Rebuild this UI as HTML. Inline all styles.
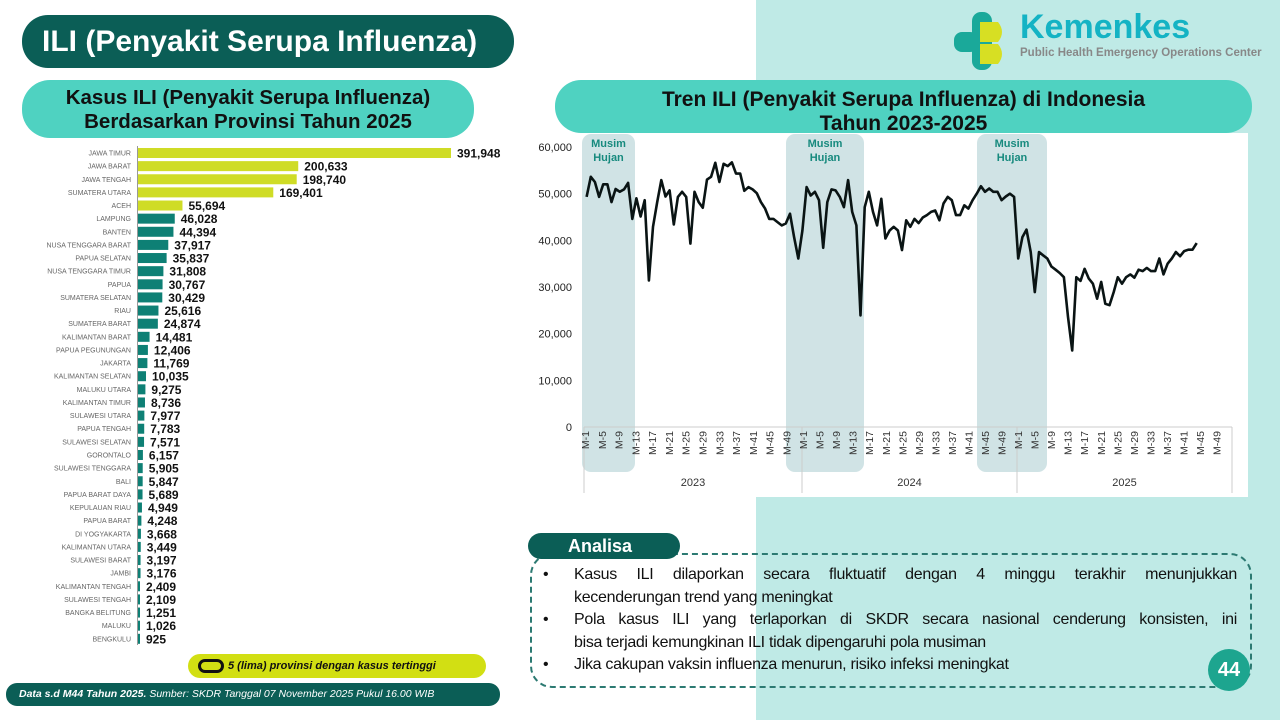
<!DOCTYPE html>
<html><head><meta charset="utf-8"><style>
body{margin:0;width:1280px;height:720px;overflow:hidden;font-family:"Liberation Sans",sans-serif;background:#fff;position:relative}
.abs{position:absolute}
.j{display:block;text-align:justify;text-align-last:justify;white-space:nowrap}
</style></head><body>
<div class="abs" style="left:756px;top:0;width:524px;height:720px;background:#bfeae6"></div>
<div class="abs" style="left:22px;top:15px;width:492px;height:53px;background:#0b5e56;border-radius:26px;color:#fff;font-weight:bold;font-size:30px;line-height:53px;padding-left:20px;box-sizing:border-box">ILI (Penyakit Serupa Influenza)</div>
<div class="abs" style="left:22px;top:80px;width:452px;height:58px;background:#4fd2c1;border-radius:28px;color:#111;font-weight:bold;font-size:20.5px;line-height:24px;text-align:center;padding-top:6px;box-sizing:border-box;white-space:nowrap">Kasus ILI (Penyakit Serupa Influenza)<br>Berdasarkan Provinsi Tahun 2025</div>
<div class="abs" style="left:555px;top:80px;width:697px;height:53px;background:#4fd2c1;border-radius:26px;color:#111;font-weight:bold;font-size:21px;line-height:24px;text-align:center;padding-top:8px;box-sizing:border-box">Tren ILI (Penyakit Serupa Influenza) di Indonesia<br>Tahun 2023-2025</div>
<div class="abs" style="left:520px;top:133px;width:728px;height:364px;background:#fff"></div>
<svg class="abs" style="left:950px;top:8px" width="80" height="70">
<rect x="4" y="24" width="24" height="20" rx="8" fill="#1aa99a"/>
<rect x="22" y="4" width="20" height="58" rx="9" fill="#1aa99a"/>
<path d="M30 14 L48 14 Q56 24 48 34 L30 34 Z" fill="#d7df23"/>
<path d="M30 36 L48 36 Q56 46 48 56 L30 56 Z" fill="#d7df23"/>
</svg>
<div class="abs" style="left:1020px;top:8px;font-size:34px;font-weight:bold;color:#14b3c4">Kemenkes</div>
<div class="abs" style="left:1020px;top:47px;font-size:11.5px;font-weight:bold;color:#888">Public Health Emergency Operations Center</div>
<svg id="bars" class="abs" style="left:0;top:0" width="520" height="720"></svg>
<svg id="line" class="abs" style="left:0;top:0" width="1280" height="720"></svg>
<div class="abs" style="left:188px;top:654px;width:298px;height:24px;background:#d2df13;border-radius:12px;font-size:11px;font-weight:bold;font-style:italic;line-height:24px;color:#111"><span style="display:inline-block;width:20px;height:8px;border:3px solid #111;border-radius:7px;vertical-align:middle;margin:0 4px 0 10px"></span>5 (lima) provinsi dengan kasus tertinggi</div>
<div class="abs" style="left:6px;top:683px;width:494px;height:23px;background:#0b5e56;border-radius:11px;font-size:10.5px;font-style:italic;line-height:23px;color:#fff;padding-left:13px;box-sizing:border-box"><b>Data s.d M44 Tahun 2025.</b> Sumber: SKDR Tanggal 07 November 2025 Pukul 16.00 WIB</div>
<div class="abs" style="left:530px;top:553px;width:722px;height:135px;border:2.5px dashed #2c7a72;border-radius:22px;box-sizing:border-box"></div>
<div class="abs" style="left:528px;top:533px;width:152px;height:26px;background:#0b5e56;border-radius:13px;color:#fff;font-weight:bold;font-size:18px;line-height:26px;padding-left:40px;box-sizing:border-box">Analisa</div>
<div class="abs" style="left:540px;top:564px;width:697px;font-size:16px;line-height:22.6px;color:#111;letter-spacing:-0.3px">
<div style="padding-left:34px;position:relative"><span style="position:absolute;left:3px">•</span><span class="j">Kasus ILI dilaporkan secara fluktuatif dengan 4 minggu terakhir menunjukkan</span>kecenderungan trend yang meningkat</div>
<div style="padding-left:34px;position:relative"><span style="position:absolute;left:3px">•</span><span class="j">Pola kasus ILI yang terlaporkan di SKDR secara nasional cenderung konsisten, ini</span>bisa terjadi kemungkinan ILI tidak dipengaruhi pola musiman</div>
<div style="padding-left:34px;position:relative"><span style="position:absolute;left:3px">•</span>Jika cakupan vaksin influenza menurun, risiko infeksi meningkat</div>
</div>
<div class="abs" style="left:1208px;top:649px;width:42px;height:42px;border-radius:50%;background:#1da58f;color:#fff;font-weight:bold;font-size:20px;line-height:42px;text-align:center">44</div>
<script>
var NS="http://www.w3.org/2000/svg";
function el(svg,t,a,txt){var e=document.createElementNS(NS,t);for(var k in a)e.setAttribute(k,a[k]);if(txt!=null)e.textContent=txt;svg.appendChild(e);return e;}
var prov=[["JAWA TIMUR",391948],["JAWA BARAT",200633],["JAWA TENGAH",198740],["SUMATERA UTARA",169401],["ACEH",55694],["LAMPUNG",46028],["BANTEN",44394],["NUSA TENGGARA BARAT",37917],["PAPUA SELATAN",35837],["NUSA TENGGARA TIMUR",31808],["PAPUA",30767],["SUMATERA SELATAN",30429],["RIAU",25616],["SUMATERA BARAT",24874],["KALIMANTAN BARAT",14481],["PAPUA PEGUNUNGAN",12406],["JAKARTA",11769],["KALIMANTAN SELATAN",10035],["MALUKU UTARA",9275],["KALIMANTAN TIMUR",8736],["SULAWESI UTARA",7977],["PAPUA TENGAH",7783],["SULAWESI SELATAN",7571],["GORONTALO",6157],["SULAWESI TENGGARA",5905],["BALI",5847],["PAPUA BARAT DAYA",5689],["KEPULAUAN RIAU",4949],["PAPUA BARAT",4248],["DI YOGYAKARTA",3668],["KALIMANTAN UTARA",3449],["SULAWESI BARAT",3197],["JAMBI",3176],["KALIMANTAN TENGAH",2409],["SULAWESI TENGAH",2109],["BANGKA BELITUNG",1251],["MALUKU",1026],["BENGKULU",925]];
var b=document.getElementById("bars");
el(b,"line",{x1:137.5,y1:146,x2:137.5,y2:645,stroke:"#999","stroke-width":1});
prov.forEach(function(p,i){var y=153+i*13.13;var w=Math.max(2,p[1]*313/391948);
el(b,"rect",{x:138,y:y-5,width:w,height:10,fill:i<5?"#cfdc26":"#0e8075"});
el(b,"text",{x:131,y:y+2.5,"text-anchor":"end","font-size":7,fill:"#666"},p[0]);
el(b,"text",{x:138+w+6,y:y+4.5,"font-size":12,"font-weight":"bold",fill:"#111"},p[1].toLocaleString("en-US"));});
var s=document.getElementById("line");
[[582,635],[786,864],[977,1047]].forEach(function(r){el(s,"rect",{x:r[0],y:134,width:r[1]-r[0],height:338,rx:9,fill:"#d0e3e5"});
el(s,"text",{x:(r[0]+r[1])/2,y:147,"text-anchor":"middle","font-size":11,"font-weight":"bold",fill:"#178a7e"},"Musim");
el(s,"text",{x:(r[0]+r[1])/2,y:161,"text-anchor":"middle","font-size":11,"font-weight":"bold",fill:"#178a7e"},"Hujan");});
for(var v=0;v<=60;v+=10){el(s,"text",{x:572,y:431-v*4.667,"text-anchor":"end","font-size":11,fill:"#222"},v?v+",000":"0");}
el(s,"line",{x1:584,y1:427,x2:1232,y2:427,stroke:"#ccc"});
[584,802,1017,1232].forEach(function(x){el(s,"line",{x1:x,y1:427,x2:x,y2:493,stroke:"#ccc"});});
var yrs=[[584,802,"2023"],[802,1017,"2024"],[1017,1232,"2025"]];
yrs.forEach(function(y){el(s,"text",{x:(y[0]+y[1])/2,y:486,"text-anchor":"middle","font-size":11,fill:"#333"},y[2]);
var n=52,step=(y[1]-y[0])/n;for(var w=1;w<=49;w+=4){var x=y[0]+(w-0.5)*step+3;el(s,"text",{x:x,y:431,"font-size":10.5,fill:"#333",transform:"rotate(-90 "+x+" 431)","text-anchor":"end"},"M-"+w);}});
var d=[49.3,53.6,52.5,49.3,52,52,48.2,51,50.4,50.9,52.3,44.6,49,45.1,48.6,31.4,42.9,48.2,52.9,49.4,50.7,43.4,49.3,50.4,49.3,39.3,50.4,48.2,47,53,53.6,56.6,52.5,56.4,55.9,56.7,54.3,54.3,50.6,51.4,50.9,50.1,48.2,46.8,44.6,44.6,43.9,43.2,43.6,45.7,40.7,36.1,
42.1,51.4,49.6,50.4,48.6,38.4,48.2,50.9,50.7,49.3,47.1,52.9,46.1,43.2,23.9,47.1,50.4,46.1,43.2,48.9,40.4,42.1,42.9,42.1,37.9,44.3,42.9,44.6,43.7,44.9,45.4,46.1,46.4,44.3,47.9,49.3,48.6,45.4,45.4,47.5,46.8,48.6,50,51.6,50.4,51.1,50.4,50.4,48.6,49.4,50,49.3,
36.1,40.7,42.3,37.5,28.9,37.5,36.8,36.1,34.4,33.7,33,32.1,23.6,16.4,32.1,31.3,33.9,31.8,30.7,27.5,31.1,26.4,26.1,28.9,32.1,30.7,32.1,32.7,32,33.7,33.4,34.1,33.4,33.4,36.1,32.7,35,36.1,37.5,36.6,37.7,38,38,39.4];
var pts=d.map(function(v,i){return (586.6+i*4.15).toFixed(1)+","+(427-v*4.667).toFixed(1);}).join(" ");
el(s,"polyline",{points:pts,fill:"none",stroke:"#0a1414","stroke-width":2.6,"stroke-linejoin":"round"});
</script>
</body></html>
